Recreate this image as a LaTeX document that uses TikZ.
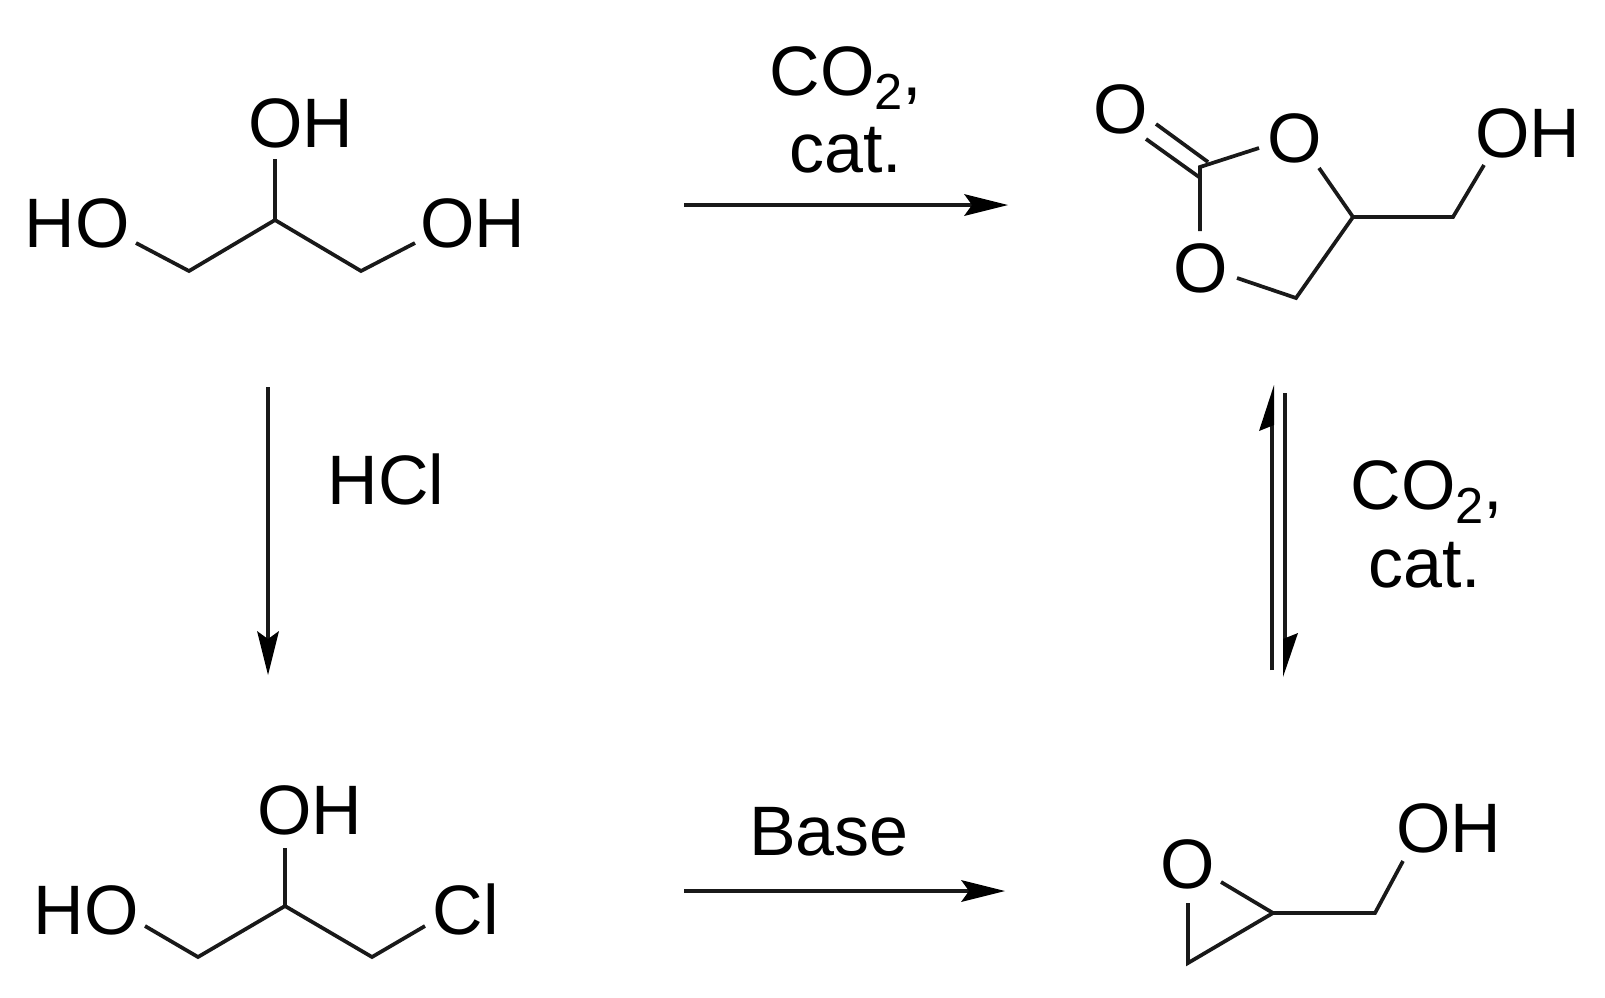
\documentclass[tikz,border=0pt]{standalone}
\usepackage{fontspec}
\setmainfont{Liberation Sans}
\newcommand{\subtwo}{\raisebox{-0.2em}{\fontsize{38}{38}\selectfont 2}}
\tikzset{
  atom/.style={anchor=base,inner sep=0pt,outer sep=0pt,font=\fontsize{52.5}{56}\selectfont},
  bond/.style={line width=2.8pt,line join=miter,line cap=butt,black!90},
  rxn/.style={line width=2.4pt,black!90},
  tip/.style={fill=black,draw=none}
}
\begin{document}
\begin{tikzpicture}[x=0.75pt,y=-0.75pt]
\useasboundingbox (0,0) rectangle (1605,997);
% glycerol
\node[atom] (gOHtop) at (301,147) {OH};
\node[atom] (gHO) at (77,247) {HO};
\node[atom] (gOHr) at (473,247) {OH};
\coordinate (g1) at (136,243); \coordinate (g2) at (189,271); \coordinate (g3) at (275,220);
\coordinate (g4) at (361,271); \coordinate (g5) at (415,243); \coordinate (g6) at (275,159);
\draw[bond] (g1) -- (g2) -- (g3) -- (g4) -- (g5);
\draw[bond] (g3) -- (g6);
% carbonate
\node[atom] (cOd) at (1121,133) {O};
\node[atom] (cOr) at (1295,162) {O};
\node[atom] (cOb) at (1201,292) {O};
\node[atom] (cOH) at (1528,157) {OH};
\coordinate (c0) at (1200,167); \coordinate (d1) at (1156,124); \coordinate (d2) at (1208,162);
\coordinate (d3) at (1146,139); \coordinate (d4) at (1199,177); \coordinate (c1) at (1259,148);
\coordinate (c2) at (1200,231); \coordinate (c3) at (1319,168); \coordinate (c4) at (1353,217);
\coordinate (c5) at (1453,217); \coordinate (c6) at (1484,165); \coordinate (c7) at (1296,298);
\coordinate (c8) at (1237,278);
\draw[bond] (d1) -- (d2);
\draw[bond] (d3) -- (d4);
\draw[bond] (c1) -- (c0) -- (c2);
\draw[bond] (c3) -- (c4) -- (c5) -- (c6);
\draw[bond] (c4) -- (c7) -- (c8);
% chlorohydrin
\node[atom] (hHO) at (86,934) {HO};
\node[atom] (hOH) at (310,834) {OH};
\node[atom] (hCl) at (466,934) {Cl};
\coordinate (h1) at (145,926); \coordinate (h2) at (198,957); \coordinate (h3) at (285,906);
\coordinate (h4) at (372,957); \coordinate (h5) at (425,926); \coordinate (h6) at (285,848);
\draw[bond] (h1) -- (h2) -- (h3) -- (h4) -- (h5);
\draw[bond] (h3) -- (h6);
% glycidol
\node[atom] (eO) at (1188,888) {O};
\node[atom] (eOH) at (1449,852) {OH};
\coordinate (e1) at (1188,903); \coordinate (e2) at (1188,963); \coordinate (e3) at (1273,913);
\coordinate (e4) at (1221,882); \coordinate (e5) at (1375,913); \coordinate (e6) at (1403,861);
\draw[bond] (e1) -- (e2) -- (e3) -- (e4);
\draw[bond] (e3) -- (e5) -- (e6);
% arrows
\coordinate (a1s) at (684,205); \coordinate (a1m) at (975,205); \coordinate (a1e) at (1008,205);
\draw[rxn] (a1s) -- (a1m);
\fill[tip] (a1e) -- ++(-44,-11) -- ++(8,11) -- ++(-8,11) -- cycle;
\coordinate (a2s) at (268,387); \coordinate (a2m) at (268,640); \coordinate (a2e) at (268,675);
\draw[rxn] (a2s) -- (a2m);
\fill[tip] (a2e) -- ++(-11,-44) -- ++(11,8) -- ++(11,-8) -- cycle;
\coordinate (a3s) at (684,891); \coordinate (a3m) at (972,891); \coordinate (a3e) at (1005,891);
\draw[rxn] (a3s) -- (a3m);
\fill[tip] (a3e) -- ++(-44,-11) -- ++(8,11) -- ++(-8,11) -- cycle;
% equilibrium
\coordinate (q1s) at (1272,670); \coordinate (q1e) at (1272,400);
\coordinate (q2s) at (1285,393); \coordinate (q2e) at (1285,660);
\draw[rxn] (q1s) -- (q1e);
\draw[rxn] (q2s) -- (q2e);
\fill[tip] (1274,385) -- (1259,431) -- (1274,425) -- cycle;
\fill[tip] (1283,677) -- (1298,633) -- (1283,639) -- cycle;
% labels
\node[atom] (l1) at (846,95) {CO\subtwo,};
\node[atom] (l2) at (846,172) {cat.};
\node[atom] (l3) at (386,504) {HCl};
\node[atom] (l4) at (1427,509) {CO\subtwo,};
\node[atom] (l5) at (1425,587) {cat.};
\node[atom] (l6) at (829,855) {Base};
\end{tikzpicture}
\end{document}
